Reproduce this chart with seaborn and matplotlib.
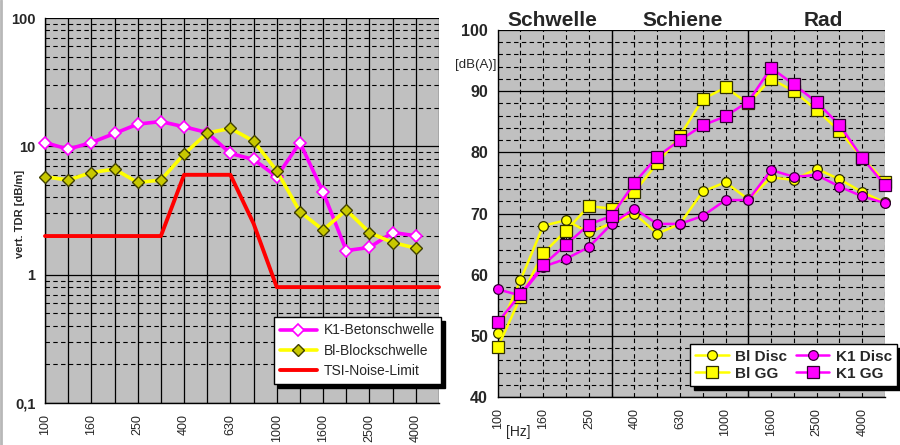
import numpy as np
import pandas as pd
import matplotlib
matplotlib.use("Agg")
import matplotlib.pyplot as plt
import seaborn as sns
from matplotlib.ticker import FixedLocator, MultipleLocator, LogLocator, NullFormatter, FixedFormatter
from matplotlib.lines import Line2D

# ---------------- data ----------------
freq_labels = ["100", "125", "160", "200", "250", "315", "400", "500", "630", "800",
               "1000", "1250", "1600", "2000", "2500", "3150", "4000", "5000"]

# left chart: vertical track decay rate [dB/m]
k1_betonschwelle = [10.7, 9.5, 10.7, 12.6, 14.9, 15.6, 14.2, 12.8, 8.8, 7.9,
                    5.8, 10.7, 4.4, 1.54, 1.63, 2.13, 2.01]
bl_blockschwelle = [5.8, 5.46, 6.25, 6.64, 5.23, 5.46, 8.7, 12.7, 13.8, 11.0,
                    6.45, 3.09, 2.23, 3.19, 2.13, 1.78, 1.61]
tsi_noise_limit = [2, 2, 2, 2, 2, 2, 6, 6, 6, 2.5,
                   0.8, 0.8, 0.8, 0.8, 0.8, 0.8, 0.8, 0.8]

# right chart: sound level [dB(A)]
bl_disc = [50.5, 59.1, 68.0, 68.9, 66.9, 68.4, 70.0, 66.7, 68.3, 73.6,
           75.1, 72.3, 75.9, 75.5, 77.3, 75.6, 73.5, 71.8]
bl_gg = [48.1, 56.3, 63.5, 67.2, 71.2, 70.8, 73.5, 78.2, 82.7, 88.7,
         90.6, 88.0, 92.0, 90.0, 86.9, 83.5, 79.1, 75.2]
k1_disc = [57.6, 56.6, 61.3, 62.6, 64.5, 68.3, 70.8, 68.3, 68.3, 69.6,
           72.2, 72.2, 77.1, 76.0, 76.3, 74.4, 72.8, 71.7]
k1_gg = [52.2, 56.8, 61.6, 64.9, 68.2, 69.6, 75.0, 79.3, 82.0, 84.4,
         85.9, 88.3, 93.8, 91.1, 88.2, 84.5, 79.1, 74.6]

left_yticks = [0.1, 1, 10, 100]
left_yticklabels = ["0,1", "1", "10", "100"]
right_yticks = [40, 50, 60, 70, 80, 90, 100]
region_labels = ["Schwelle", "Schiene", "Rad"]
region_centers = [2.4, 8.1, 14.3]

# ---------------- style ----------------
sns.set_style("white")
plt.rcParams['font.family'] = ['Liberation Sans', 'DejaVu Sans']

GRAY = "#c0c0c0"
MAG = "#ff00ff"
YEL = "#ffff00"
RED = "#ff0000"
DASH = (0, (4, 3))

fig = plt.figure(figsize=(9.0, 4.45), dpi=100)
W, H = 900, 445

def ax_rect(x0, y0, x1, y1):
    return [x0 / W, 1 - y1 / H, (x1 - x0) / W, (y1 - y0) / H]

axL = fig.add_axes(ax_rect(45, 18, 439, 403))
axR = fig.add_axes(ax_rect(497.7, 30, 885, 397))

pos = np.arange(len(freq_labels))
xlabels_shown = [lab if i % 2 == 0 else "" for i, lab in enumerate(freq_labels)]

# ---------------- left chart ----------------
dfL = pd.DataFrame({"pos": pos[:len(k1_betonschwelle)],
                    "k1": k1_betonschwelle, "bl": bl_blockschwelle})
dfT = pd.DataFrame({"pos": pos, "tsi": tsi_noise_limit})

axL.set_facecolor(GRAY)
axL.set_yscale("log")
sns.lineplot(data=dfL, x="pos", y="k1", ax=axL, color=MAG, lw=2.6, marker="D",
             markersize=6, markerfacecolor="white", markeredgecolor=MAG,
             markeredgewidth=1.2, label="K1-Betonschwelle", zorder=4, clip_on=False)
sns.lineplot(data=dfL, x="pos", y="bl", ax=axL, color=YEL, lw=2.6, marker="D",
             markersize=6, markerfacecolor="#c8c800", markeredgecolor="#404000",
             markeredgewidth=1.0, label="Bl-Blockschwelle", zorder=5, clip_on=False)
sns.lineplot(data=dfT, x="pos", y="tsi", ax=axL, color=RED, lw=2.8,
             label="TSI-Noise-Limit", zorder=3, clip_on=False)

axL.set_xlim(0, len(freq_labels) - 1)
axL.set_ylim(0.1, 100)
axL.xaxis.set_major_locator(FixedLocator(pos))
axL.set_xticklabels(xlabels_shown, rotation=90, fontsize=9)
axL.yaxis.set_major_locator(FixedLocator(left_yticks))
axL.yaxis.set_major_formatter(FixedFormatter(left_yticklabels))
axL.yaxis.set_minor_locator(LogLocator(base=10, subs=np.arange(2, 10)))
axL.yaxis.set_minor_formatter(NullFormatter())
for lab in axL.get_yticklabels():
    lab.set_fontweight("bold")
    lab.set_fontsize(10.5)
axL.tick_params(axis="y", which="major", direction="out", length=5, width=1, pad=2)
axL.tick_params(axis="y", which="minor", length=0)
axL.tick_params(axis="x", which="major", direction="out", length=4, width=1, pad=4)
axL.xaxis.grid(True, which="major", color="black", lw=0.9, ls="-")
axL.yaxis.grid(True, which="major", color="black", lw=0.9, ls="-")
axL.yaxis.grid(True, which="minor", color="black", lw=0.8, ls=DASH)
axL.set_axisbelow(True)
axL.set_xlabel("")
axL.set_ylabel("vert. TDR [dB/m]", fontsize=8, fontweight="bold", labelpad=4)
axL.yaxis.set_label_coords(-0.05, 0.49)
for s in ["top", "right"]:
    axL.spines[s].set_visible(False)
for s in ["left", "bottom"]:
    axL.spines[s].set_color("black")
    axL.spines[s].set_linewidth(1)

legL = axL.legend(loc="lower right", bbox_to_anchor=(1.005, 0.049), borderaxespad=0,
                  fontsize=10, frameon=True, fancybox=False, edgecolor="black",
                  framealpha=1, handlelength=2.6, labelspacing=0.45,
                  borderpad=0.45, handletextpad=0.5,
                  shadow={"color": "black", "alpha": 1, "ox": 3, "oy": -3})
legL.get_frame().set_linewidth(1.0)
legL.set_zorder(10)

# ---------------- right chart ----------------
dfR = pd.DataFrame({"pos": pos, "bl_disc": bl_disc, "bl_gg": bl_gg,
                    "k1_disc": k1_disc, "k1_gg": k1_gg})
axR.set_facecolor(GRAY)
sns.lineplot(data=dfR, x="pos", y="bl_disc", ax=axR, color=YEL, lw=1.8, marker="o",
             markersize=7, markerfacecolor=YEL, markeredgecolor="#303000",
             markeredgewidth=0.9, label="Bl Disc", zorder=3, clip_on=False)
sns.lineplot(data=dfR, x="pos", y="bl_gg", ax=axR, color=YEL, lw=1.8, marker="s",
             markersize=8, markerfacecolor=YEL, markeredgecolor="#303000",
             markeredgewidth=0.9, label="Bl GG", zorder=3, clip_on=False)
sns.lineplot(data=dfR, x="pos", y="k1_disc", ax=axR, color=MAG, lw=1.8, marker="o",
             markersize=7, markerfacecolor=MAG, markeredgecolor="#300030",
             markeredgewidth=0.9, label="K1 Disc", zorder=4, clip_on=False)
sns.lineplot(data=dfR, x="pos", y="k1_gg", ax=axR, color=MAG, lw=1.8, marker="s",
             markersize=8, markerfacecolor=MAG, markeredgecolor="#300030",
             markeredgewidth=0.9, label="K1 GG", zorder=4, clip_on=False)

axR.set_xlim(0, len(freq_labels) - 1)
axR.set_ylim(40, 100)
axR.xaxis.set_major_locator(FixedLocator(pos))
axR.set_xticklabels(xlabels_shown, rotation=90, fontsize=9)
axR.yaxis.set_major_locator(FixedLocator(right_yticks))
axR.yaxis.set_minor_locator(MultipleLocator(2))
for lab in axR.get_yticklabels():
    lab.set_fontweight("bold")
    lab.set_fontsize(11.5)
axR.tick_params(axis="y", which="major", direction="out", length=5, width=1, pad=2)
axR.tick_params(axis="y", which="minor", length=0)
axR.tick_params(axis="x", which="major", direction="out", length=4, width=1, pad=4)
axR.xaxis.grid(True, which="major", color="black", lw=0.8, ls=DASH)
axR.yaxis.grid(True, which="major", color="black", lw=0.9, ls="-")
axR.yaxis.grid(True, which="minor", color="black", lw=0.8, ls=DASH)
axR.set_axisbelow(True)
for b in (5, 11):
    axR.axvline(b, color="black", lw=1.0, zorder=1.5)
axR.set_xlabel("")
axR.set_ylabel("")
for s in ["top", "right"]:
    axR.spines[s].set_visible(False)
for s in ["left", "bottom"]:
    axR.spines[s].set_color("black")
    axR.spines[s].set_linewidth(1)

for txt, xc in zip(region_labels, region_centers):
    axR.text(xc, 1.0, txt, transform=axR.get_xaxis_transform(), ha="center",
             va="bottom", fontsize=15, fontweight="bold")

fig.text(476 / W, 1 - 65 / H, "[dB(A)]", ha="center", va="center", fontsize=9.5)
fig.text(518 / W, 1 - 432 / H, "[Hz]", ha="center", va="center", fontsize=10)

legR = axR.legend(loc="lower right", bbox_to_anchor=(1.031, 0.030), borderaxespad=0,
                  ncol=2, prop={"weight": "bold", "size": 11},
                  frameon=True, fancybox=False, edgecolor="black", framealpha=1,
                  handlelength=2.2, labelspacing=0.2, borderpad=0.35,
                  handletextpad=0.4, columnspacing=0.6,
                  shadow={"color": "black", "alpha": 1, "ox": 3, "oy": -3})
legR.get_frame().set_linewidth(1.0)
legR.set_zorder(10)

# light gray border at left edge of the image
fig.add_artist(Line2D([0.0015, 0.0015], [0, 1], transform=fig.transFigure,
                      color="#b8b8b8", lw=2))

fig.savefig("out.png", dpi=100, facecolor="white")
